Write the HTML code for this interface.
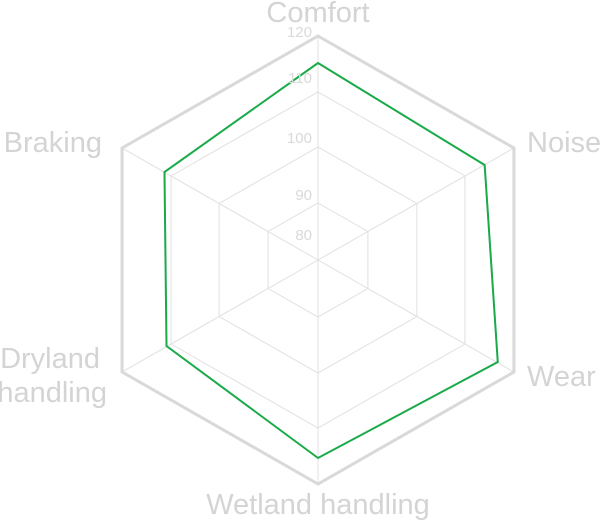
<!DOCTYPE html>
<html><head><style>body{margin:0;background:#fff}svg{display:block}</style></head><body>
<svg width="600" height="520" xmlns="http://www.w3.org/2000/svg" font-family="Liberation Sans, sans-serif">
<g transform="translate(318,260) scale(1.01,1) translate(-318,-260)">
<g fill="none" stroke="#e0e0e0" stroke-width="1">
<polygon points="318,92 463.5,176 463.5,344 318,428 172.5,344 172.5,176"/>
<polygon points="318,147 415.9,203.5 415.9,316.5 318,373 220.1,316.5 220.1,203.5"/>
<polygon points="318,203 367.4,231.5 367.4,288.5 318,317 268.6,288.5 268.6,231.5"/>
<line x1="318" y1="260" x2="318" y2="36"/><line x1="318" y1="260" x2="318" y2="484"/>
<line x1="318" y1="260" x2="512" y2="148"/><line x1="318" y1="260" x2="124" y2="372"/>
<line x1="318" y1="260" x2="512" y2="372"/><line x1="318" y1="260" x2="124" y2="148"/>
</g>
<polygon points="318,36 512,148 512,372 318,484 124,372 124,148" fill="none" stroke="#d9d9d9" stroke-width="3"/>
<polygon points="318,63 483,165 496,362 318,458 168,346 166,172" fill="none" stroke="#1aaa4a" stroke-width="2"/>
</g>
<g fill="#d9d9d9" font-size="15" text-anchor="end">
<text x="312" y="37">120</text><text x="312" y="83">110</text><text x="312" y="143">100</text><text x="312" y="200">90</text><text x="312" y="240">80</text>
</g>
<g fill="#d4d4d4" font-size="29">
<text x="318" y="22" text-anchor="middle">Comfort</text>
<text x="527" y="152">Noise</text>
<text x="527" y="386">Wear</text>
<text x="318" y="514" text-anchor="middle">Wetland handling</text>
<text x="102" y="152" text-anchor="end">Braking</text>
<text x="100" y="368" text-anchor="end">Dryland</text>
<text x="107" y="402" text-anchor="end">handling</text>
</g>
</svg>
</body></html>
